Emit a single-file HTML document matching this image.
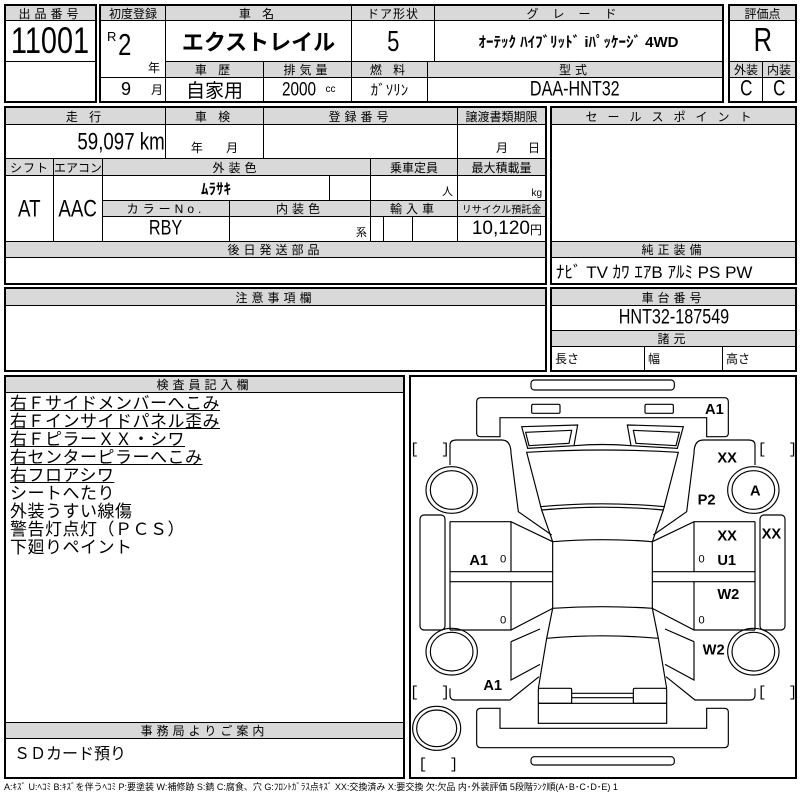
<!DOCTYPE html>
<html><head><meta charset="utf-8">
<style>
*{margin:0;padding:0;box-sizing:border-box}
body{width:800px;height:800px;background:#fff;position:relative;overflow:hidden;font-family:"Liberation Sans","Noto Sans CJK JP",sans-serif;color:#000}
.b{position:absolute;border:1px solid #000;display:flex;align-items:center;justify-content:center;white-space:nowrap;overflow:hidden}
.h{background:#d9d9d9;font-size:12px;letter-spacing:4px}
.o{position:absolute;border:2px solid #000;pointer-events:none}
.t{display:inline-block;transform:scale(0.85,1.1)}
.ins{position:absolute;left:10px;top:395px;font-size:17px;line-height:18px;letter-spacing:0.5px}
.ins div{height:18px}
.u span{text-decoration:underline}
</style></head><body>
<!-- block 1 -->
<div class="b h" style="left:5px;top:5px;width:91px;height:16px">出品番号</div>
<div class="b" style="left:5px;top:20px;width:91px;height:42px;font-size:34px"><span class="t">11001</span></div>
<div class="b" style="left:5px;top:61px;width:91px;height:41px"></div>
<!-- block 2 -->
<div class="b h" style="left:100px;top:5px;width:66px;height:16px;letter-spacing:0">初度登録</div>
<div class="b h" style="left:165px;top:5px;width:187px;height:16px">車 名</div>
<div class="b h" style="left:351px;top:5px;width:84px;height:16px;letter-spacing:1px">ドア形状</div>
<div class="b h" style="left:434px;top:5px;width:289px;height:16px;letter-spacing:14px">グレード</div>
<div class="b" style="left:100px;top:20px;width:66px;height:58px"><span style="position:absolute;left:6px;top:8px;font-size:13px">R</span><span style="position:absolute;left:16px;top:8px;font-size:28px" class="t">2</span><span style="position:absolute;right:5px;bottom:1px;font-size:12px">年</span></div>
<div class="b" style="left:100px;top:77px;width:66px;height:25px;font-size:18px;justify-content:flex-start;padding-left:20px">9<span style="font-size:12px;margin-left:20px">月</span></div>
<div class="b" style="left:165px;top:20px;width:187px;height:42px;font-size:22px;font-weight:bold">エクストレイル</div>
<div class="b" style="left:351px;top:20px;width:84px;height:42px;font-size:26px"><span class="t">5</span></div>
<div class="b" style="left:434px;top:20px;width:289px;height:42px;font-size:15px;font-weight:bold">ｵｰﾃｯｸ ﾊｲﾌﾞﾘｯﾄﾞ iﾊﾟｯｹｰｼﾞ 4WD</div>
<div class="b h" style="left:165px;top:61px;width:99px;height:17px">車 歴</div>
<div class="b h" style="left:263px;top:61px;width:89px;height:17px">排気量</div>
<div class="b h" style="left:351px;top:61px;width:77px;height:17px">燃 料</div>
<div class="b h" style="left:427px;top:61px;width:296px;height:17px">型式</div>
<div class="b" style="left:165px;top:77px;width:99px;height:25px;font-size:19px">自家用</div>
<div class="b" style="left:263px;top:77px;width:89px;height:25px;font-size:18px"><span class="t">2000</span><span style="font-size:10px;margin-left:6px">cc</span></div>
<div class="b" style="left:351px;top:77px;width:77px;height:25px;font-size:15px">ｶﾞｿﾘﾝ</div>
<div class="b" style="left:427px;top:77px;width:296px;height:25px;font-size:19px"><span class="t">DAA-HNT32</span></div>
<div class="o" style="left:4px;top:4px;width:93px;height:99px"></div>
<div class="o" style="left:99px;top:4px;width:625px;height:99px"></div>
<!-- grade -->
<div class="b h" style="left:729px;top:5px;width:67px;height:16px;letter-spacing:0">評価点</div>
<div class="b" style="left:729px;top:20px;width:67px;height:42px;font-size:30px"><span class="t">R</span></div>
<div class="b h" style="left:729px;top:61px;width:34px;height:17px;letter-spacing:0">外装</div>
<div class="b h" style="left:762px;top:61px;width:34px;height:17px;letter-spacing:0">内装</div>
<div class="b" style="left:729px;top:77px;width:34px;height:25px;font-size:20px"><span class="t">C</span></div>
<div class="b" style="left:762px;top:77px;width:34px;height:25px;font-size:20px"><span class="t">C</span></div>
<div class="o" style="left:728px;top:4px;width:69px;height:99px"></div>
<!-- block 3 -->
<div class="b h" style="left:5px;top:107px;width:161px;height:18px">走 行</div>
<div class="b h" style="left:165px;top:107px;width:99px;height:18px">車 検</div>
<div class="b h" style="left:263px;top:107px;width:195px;height:18px">登録番号</div>
<div class="b h" style="left:457px;top:107px;width:89px;height:18px;letter-spacing:0">譲渡書類期限</div>
<div class="b" style="left:5px;top:124px;width:161px;height:35px;font-size:22px;justify-content:flex-end;padding-right:0"><span class="t" style="transform-origin:right center">59,097 km</span></div>
<div class="b" style="left:165px;top:124px;width:99px;height:35px;font-size:12px;align-items:flex-end;padding-bottom:2px">年&nbsp;&nbsp;&nbsp;&nbsp;&nbsp;&nbsp;&nbsp;月</div>
<div class="b" style="left:263px;top:124px;width:195px;height:35px"></div>
<div class="b" style="left:457px;top:124px;width:89px;height:35px;font-size:12px;align-items:flex-end;justify-content:flex-end;padding:0 5px 2px 0">月&nbsp;&nbsp;&nbsp;&nbsp;&nbsp;&nbsp;日</div>
<div class="b h" style="left:5px;top:158px;width:49px;height:18px;letter-spacing:1px">シフト</div>
<div class="b h" style="left:53px;top:158px;width:50px;height:18px;letter-spacing:0">エアコン</div>
<div class="b h" style="left:102px;top:158px;width:269px;height:18px">外装色</div>
<div class="b h" style="left:370px;top:158px;width:88px;height:18px;letter-spacing:0">乗車定員</div>
<div class="b h" style="left:457px;top:158px;width:89px;height:18px;letter-spacing:0">最大積載量</div>
<div class="b" style="left:5px;top:175px;width:49px;height:67px;font-size:22px"><span class="t">AT</span></div>
<div class="b" style="left:53px;top:175px;width:50px;height:67px;font-size:22px"><span class="t">AAC</span></div>
<div class="b" style="left:102px;top:175px;width:228px;height:26px;font-size:15px;font-weight:bold">ﾑﾗｻｷ</div>
<div class="b" style="left:329px;top:175px;width:42px;height:26px"></div>
<div class="b" style="left:370px;top:175px;width:88px;height:26px;font-size:11px;justify-content:flex-end;align-items:flex-end;padding:0 4px 1px 0">人</div>
<div class="b" style="left:457px;top:175px;width:89px;height:26px;font-size:10px;justify-content:flex-end;align-items:flex-end;padding:0 3px 1px 0">kg</div>
<div class="b h" style="left:102px;top:200px;width:128px;height:17px">カラーNo.</div>
<div class="b h" style="left:229px;top:200px;width:142px;height:17px">内装色</div>
<div class="b h" style="left:370px;top:200px;width:88px;height:17px">輸入車</div>
<div class="b h" style="left:457px;top:200px;width:89px;height:17px;font-size:10px;letter-spacing:0">リサイクル預託金</div>
<div class="b" style="left:102px;top:216px;width:128px;height:26px;font-size:19px"><span class="t">RBY</span></div>
<div class="b" style="left:229px;top:216px;width:142px;height:26px;font-size:11px;justify-content:flex-end;align-items:flex-end;padding:0 3px 1px 0">系</div>
<div class="b" style="left:370px;top:216px;width:14px;height:26px"></div>
<div class="b" style="left:383px;top:216px;width:30px;height:26px"></div>
<div class="b" style="left:412px;top:216px;width:46px;height:26px"></div>
<div class="b" style="left:457px;top:216px;width:89px;height:26px;font-size:19px;justify-content:flex-end;padding-right:3px">10,120<span style="font-size:12px">円</span></div>
<div class="b h" style="left:5px;top:241px;width:541px;height:17px">後日発送部品</div>
<div class="b" style="left:5px;top:257px;width:541px;height:27px"></div>
<div class="o" style="left:4px;top:106px;width:543px;height:179px"></div>
<!-- sales point -->
<div class="b h" style="left:551px;top:107px;width:245px;height:18px;letter-spacing:10px">セールスポイント</div>
<div class="b" style="left:551px;top:124px;width:245px;height:118px"></div>
<div class="b h" style="left:551px;top:241px;width:245px;height:17px">純正装備</div>
<div class="b" style="left:551px;top:257px;width:245px;height:27px;font-size:17px;justify-content:flex-start;padding-left:4px">ﾅﾋﾞ TV ｶﾜ ｴｱB ｱﾙﾐ PS PW</div>
<div class="o" style="left:550px;top:106px;width:247px;height:179px"></div>
<!-- caution -->
<div class="b h" style="left:5px;top:288px;width:541px;height:18px">注意事項欄</div>
<div class="b" style="left:5px;top:305px;width:541px;height:66px"></div>
<div class="o" style="left:4px;top:287px;width:543px;height:85px"></div>
<div class="b h" style="left:551px;top:288px;width:245px;height:18px">車台番号</div>
<div class="b" style="left:551px;top:305px;width:245px;height:26px;font-size:19px"><span class="t">HNT32-187549</span></div>
<div class="b h" style="left:551px;top:330px;width:245px;height:17px">諸元</div>
<div class="b" style="left:551px;top:346px;width:94px;height:25px;font-size:12px;justify-content:flex-start;padding-left:3px">長さ</div>
<div class="b" style="left:644px;top:346px;width:79px;height:25px;font-size:12px;justify-content:flex-start;padding-left:3px">幅</div>
<div class="b" style="left:722px;top:346px;width:74px;height:25px;font-size:12px;justify-content:flex-start;padding-left:3px">高さ</div>
<div class="o" style="left:550px;top:287px;width:247px;height:85px"></div>
<!-- inspector -->
<div class="b h" style="left:5px;top:376px;width:399px;height:17px">検査員記入欄</div>
<div class="b" style="left:5px;top:392px;width:399px;height:331px"></div>
<div class="ins">
<div class="u"><span>右Ｆサイドメンバーへこみ</span></div>
<div class="u"><span>右Ｆインサイドパネル歪み</span></div>
<div class="u"><span>右ＦピラーＸＸ・シワ</span></div>
<div class="u"><span>右センターピラーへこみ</span></div>
<div class="u"><span>右フロアシワ</span></div>
<div>シートへたり</div>
<div>外装うすい線傷</div>
<div>警告灯点灯（ＰＣＳ）</div>
<div>下廻りペイント</div>
</div>
<div class="b h" style="left:5px;top:722px;width:399px;height:17px">事務局よりご案内</div>
<div class="b" style="left:5px;top:738px;width:399px;height:40px;font-size:16px;justify-content:flex-start;align-items:flex-start;padding:1px 0 0 8px">ＳＤカード預り</div>
<div class="o" style="left:4px;top:375px;width:401px;height:404px"></div>
<!-- car diagram -->
<div class="o" style="left:409px;top:375px;width:388px;height:404px"></div>
<svg style="position:absolute;left:405px;top:375px" width="395" height="400" viewBox="0 0 1185 1200" fill="none" stroke="#000" stroke-width="3.5">
<defs>
<g id="side">
<path d="M135,270 V210 Q135,195 155,195 H290 Q318,195 318,235 L340,410 L440,480"/>
<path d="M135,440 H318 L443,500 M135,590 H443 M135,620 H443 M135,765 H318 L443,700 M318,440 V590 M318,620 V765 M135,440 V765"/>
<path d="M318,800 L405,762 M318,800 V915 L405,868"/>
<path d="M135,940 V960 Q135,975 150,975 H315 L402,905"/>
<ellipse cx="140" cy="345" rx="77" ry="70"/><ellipse cx="140" cy="345" rx="64" ry="58"/>
<ellipse cx="140" cy="830" rx="77" ry="70"/><ellipse cx="140" cy="830" rx="64" ry="58"/>
<rect x="45" y="420" width="75" height="345" rx="12"/>
<path d="M350,155 L518,150 L507,212 L368,220 Z M362,172 L500,166 L492,205 L372,212 Z"/>
<rect x="380" y="88" width="85" height="27" rx="4"/>
</g>
</defs>
<rect x="378" y="15" width="430" height="30" rx="10"/>
<path d="M215,80 Q215,68 228,68 H958 Q970,68 970,80 V175 Q970,185 958,185 H905 V128 H285 V185 H228 Q215,185 215,175 Z"/>
<use href="#side"/>
<use href="#side" transform="translate(1185,0) scale(-1,1)"/>
<path d="M507,212 Q592,205 679,212"/>
<path d="M365,232 Q592,218 820,232 L775,405 Q592,388 410,405 Z"/>
<path d="M405,395 Q592,378 780,395"/>
<path d="M410,405 L443,500 M775,405 L742,500"/>
<path d="M443,500 Q592,488 742,500 V700 Q592,690 443,700 Z"/>
<path d="M443,700 L425,790 L400,940 M742,700 L760,790 L785,940"/>
<path d="M425,790 Q592,775 760,790"/>
<rect x="400" y="940" width="100" height="45" rx="4"/>
<rect x="685" y="940" width="100" height="45" rx="4"/>
<path d="M500,955 H685 M500,968 H685"/>
<rect x="400" y="985" width="385" height="60"/>
<path d="M215,1012 Q215,1000 228,1000 H285 V1060 H905 V1000 H958 Q970,1000 970,1012 V1105 Q970,1118 958,1118 H228 Q215,1118 215,1105 Z"/>
<rect x="378" y="1145" width="430" height="25" rx="10"/>
<ellipse cx="95" cy="1060" rx="72" ry="66"/><ellipse cx="95" cy="1060" rx="60" ry="55"/>
<g fill="#000" stroke="none" font-family="Liberation Sans Narrow, Liberation Sans, sans-serif" font-weight="bold" font-size="44">
<text x="900" y="117">A1</text>
<text x="937" y="262">XX</text>
<text x="1035" y="362">A</text>
<text x="878" y="388">P2</text>
<text x="937" y="497">XX</text>
<text x="1070" y="490">XX</text>
<text x="937" y="570">U1</text>
<text x="937" y="672">W2</text>
<text x="893" y="838">W2</text>
<text x="193" y="570">A1</text>
<text x="235" y="945">A1</text>
</g>
<g fill="#000" stroke="none" font-family="Liberation Sans Narrow, Liberation Sans, sans-serif" font-size="34">
<text x="285" y="562">0</text><text x="285" y="745">0</text>
<text x="880" y="562">0</text><text x="880" y="745">0</text>
</g>
<g fill="#000" stroke="none" font-family="Liberation Mono, monospace" font-size="44">
<text x="15" y="235">[</text><text x="108" y="235">]</text>
<text x="1058" y="235">[</text><text x="1150" y="235">]</text>
<text x="15" y="965">[</text><text x="108" y="965">]</text>
<text x="1058" y="965">[</text><text x="1150" y="965">]</text>
<text x="40" y="1180">[</text><text x="133" y="1180">]</text>
</g>
</svg>
<div style="position:absolute;left:4px;top:780px;font-size:9px;white-space:nowrap;letter-spacing:0">A:ｷｽﾞ U:ﾍｺﾐ B:ｷｽﾞを伴うﾍｺﾐ P:要塗装 W:補修跡 S:錆 C:腐食、穴 G:ﾌﾛﾝﾄｶﾞﾗｽ点ｷｽﾞ XX:交換済み X:要交換 欠:欠品 内･外装評価 5段階ﾗﾝｸ順(A･B･C･D･E) 1</div>
</body></html>
